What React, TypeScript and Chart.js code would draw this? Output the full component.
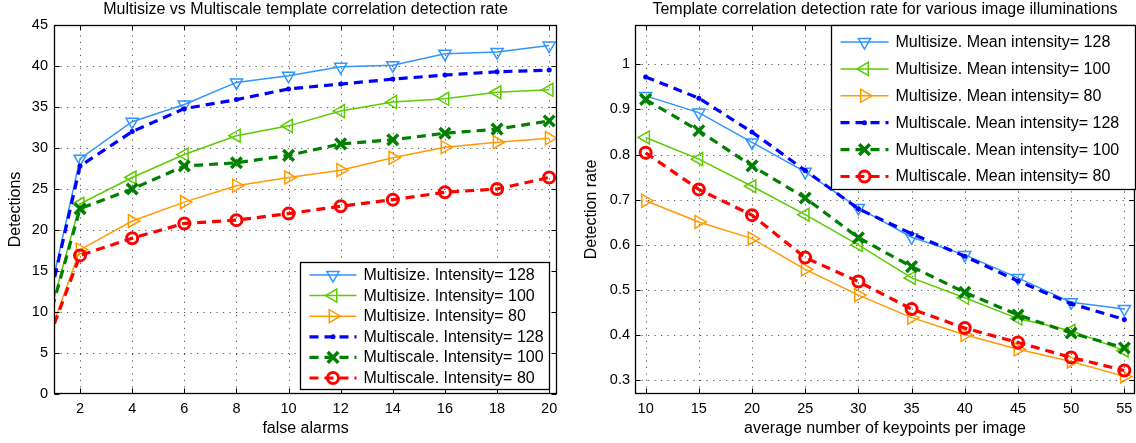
import React, { useEffect, useRef } from "react";
import { Chart, registerables } from "chart.js";
import { drawPoint } from "chart.js/helpers";

Chart.register(...registerables);

const FONT = '"Liberation Sans", Arial, Helvetica, sans-serif';

// ---------------- Left chart data ----------------
const LEFT_TITLE = "Multisize vs Multiscale template correlation detection rate";
const LEFT_X_LABEL = "false alarms";
const LEFT_Y_LABEL = "Detections";
const FALSE_ALARMS = [0, 2, 4, 6, 8, 10, 12, 14, 16, 18, 20];
const LEFT_X_TICKS = [2, 4, 6, 8, 10, 12, 14, 16, 18, 20];
const LEFT_Y_TICKS = [0, 5, 10, 15, 20, 25, 30, 35, 40, 45];
const LEFT_LABELS = [
  "Multisize. Intensity= 128",
  "Multisize. Intensity= 100",
  "Multisize. Intensity= 80",
  "Multiscale. Intensity= 128",
  "Multiscale. Intensity= 100",
  "Multiscale. Intensity= 80",
];
const DET_MSIZE_128 = [0, 28.7, 33.2, 35.3, 38.0, 38.8, 39.9, 40.1, 41.5, 41.7, 42.5];
const DET_MSIZE_100 = [0, 23.2, 26.4, 29.2, 31.5, 32.7, 34.5, 35.6, 36.0, 36.8, 37.1];
const DET_MSIZE_80 = [0, 17.6, 21.1, 23.4, 25.4, 26.4, 27.3, 28.8, 30.1, 30.7, 31.2];
const DET_MSCALE_128 = [0, 27.8, 32.0, 34.8, 35.9, 37.2, 37.8, 38.4, 38.9, 39.3, 39.5];
const DET_MSCALE_100 = [0, 22.6, 25.0, 27.8, 28.2, 29.1, 30.5, 31.0, 31.8, 32.3, 33.3];
const DET_MSCALE_80 = [0, 16.9, 19.0, 20.8, 21.2, 22.0, 22.9, 23.7, 24.6, 25.0, 26.4];

// ---------------- Right chart data ----------------
const RIGHT_TITLE = "Template correlation detection rate for various image illuminations";
const RIGHT_X_LABEL = "average number of keypoints per image";
const RIGHT_Y_LABEL = "Detection rate";
const KEYPOINTS = [10, 15, 20, 25, 30, 35, 40, 45, 50, 55];
const RIGHT_X_TICKS = [10, 15, 20, 25, 30, 35, 40, 45, 50, 55];
const RIGHT_Y_TICKS = [0.3, 0.4, 0.5, 0.6, 0.7, 0.8, 0.9, 1];
const RIGHT_LABELS = [
  "Multisize. Mean intensity= 128",
  "Multisize. Mean intensity= 100",
  "Multisize. Mean intensity= 80",
  "Multiscale. Mean intensity= 128",
  "Multiscale. Mean intensity= 100",
  "Multiscale. Mean intensity= 80",
];
const RATE_MSIZE_128 = [0.93, 0.893, 0.827, 0.762, 0.682, 0.617, 0.578, 0.527, 0.473, 0.458];
const RATE_MSIZE_100 = [0.838, 0.79, 0.73, 0.667, 0.6, 0.527, 0.483, 0.437, 0.41, 0.366];
const RATE_MSIZE_80 = [0.698, 0.651, 0.614, 0.546, 0.489, 0.439, 0.401, 0.369, 0.342, 0.309];
const RATE_MSCALE_128 = [0.972, 0.925, 0.85, 0.765, 0.68, 0.625, 0.575, 0.52, 0.47, 0.435];
const RATE_MSCALE_100 = [0.922, 0.853, 0.775, 0.704, 0.616, 0.552, 0.495, 0.445, 0.405, 0.372];
const RATE_MSCALE_80 = [0.804, 0.723, 0.666, 0.572, 0.519, 0.458, 0.416, 0.384, 0.351, 0.322];

// ---------------- Series styles ----------------
const STYLES = [
  { color: "#2f95ff", width: 1.5, dash: [], marker: "triangle", rot: 180, radius: 7, mw: 1.5, fill: "rgba(0,0,0,0)", order: 1 },
  { color: "#5ccc00", width: 1.5, dash: [], marker: "triangle", rot: 270, radius: 7.5, mw: 1.5, fill: "rgba(0,0,0,0)", order: 1 },
  { color: "#ff9a00", width: 1.5, dash: [], marker: "triangle", rot: 90, radius: 7.5, mw: 1.5, fill: "rgba(0,0,0,0)", order: 1 },
  { color: "#0000ff", width: 3.2, dash: [9, 6], marker: "circle", rot: 0, radius: 2.5, mw: 0, fill: "#0000ff", order: 0 },
  { color: "#008000", width: 3.2, dash: [9, 6], marker: "crossRot", rot: 0, radius: 7.5, mw: 3.5, fill: "rgba(0,0,0,0)", order: 0 },
  { color: "#ff0000", width: 3.2, dash: [9, 6], marker: "circle", rot: 0, radius: 5.5, mw: 3, fill: "rgba(0,0,0,0)", order: 0 },
];

function buildDatasets(xs: number[], series: number[][], labels: string[]) {
  return series.map((vals, i) => {
    const st = STYLES[i];
    return {
      label: labels[i],
      data: xs.map((x, j) => ({ x, y: vals[j] })),
      borderColor: st.color,
      borderWidth: st.width,
      borderDash: st.dash,
      pointStyle: st.marker,
      pointRotation: st.rot,
      pointRadius: st.radius,
      pointHoverRadius: st.radius,
      pointBorderWidth: st.mw,
      pointBorderColor: st.color,
      pointBackgroundColor: st.fill,
      order: st.order,
      clip: 0,
      fill: false,
      tension: 0,
    };
  });
}

const matlabPlugin = {
  id: "matlab",
  beforeDatasetsDraw(chart: any) {
    const { ctx, chartArea: a, scales } = chart;
    const x = scales.x;
    const y = scales.y;
    ctx.save();
    ctx.strokeStyle = "rgba(60,60,60,0.85)";
    ctx.lineWidth = 1;
    ctx.setLineDash([1.2, 5.3]);
    for (const t of x.ticks) {
      const px = Math.round(x.getPixelForValue(t.value)) + 0.5;
      if (px <= a.left + 1 || px >= a.right - 1) continue;
      ctx.beginPath();
      ctx.moveTo(px, a.bottom);
      ctx.lineTo(px, a.top);
      ctx.stroke();
    }
    for (const t of y.ticks) {
      const py = Math.round(y.getPixelForValue(t.value)) + 0.5;
      if (py <= a.top + 1 || py >= a.bottom - 1) continue;
      ctx.beginPath();
      ctx.moveTo(a.left, py);
      ctx.lineTo(a.right, py);
      ctx.stroke();
    }
    ctx.restore();
  },
  afterDatasetsDraw(chart: any, _args: any, opts: any) {
    const { ctx, chartArea: a, scales } = chart;
    const x = scales.x;
    const y = scales.y;
    ctx.save();
    ctx.setLineDash([]);
    ctx.strokeStyle = "#000";
    ctx.lineWidth = 1.3;
    const L = Math.round(a.left) + 0.5;
    const R = Math.round(a.right) - 0.5;
    const T = Math.round(a.top) + 0.5;
    const B = Math.round(a.bottom) - 0.5;
    ctx.strokeRect(L, T, R - L, B - T);
    const tl = 5;
    ctx.lineWidth = 1;
    for (const t of x.ticks) {
      const px = Math.round(x.getPixelForValue(t.value)) + 0.5;
      ctx.beginPath();
      ctx.moveTo(px, B);
      ctx.lineTo(px, B - tl);
      ctx.moveTo(px, T);
      ctx.lineTo(px, T + tl);
      ctx.stroke();
    }
    for (const t of y.ticks) {
      const py = Math.round(y.getPixelForValue(t.value)) + 0.5;
      ctx.beginPath();
      ctx.moveTo(L, py);
      ctx.lineTo(L + tl, py);
      ctx.moveTo(R, py);
      ctx.lineTo(R - tl, py);
      ctx.stroke();
    }

    // legend
    const lg = opts.legend;
    const bx = Math.round(a.right - lg.dx - lg.w) + 0.5;
    const by = Math.round(lg.anchor === "bottom" ? a.bottom - lg.dy - lg.h : a.top + lg.dy) + 0.5;
    ctx.fillStyle = "#fff";
    ctx.fillRect(bx, by, lg.w, lg.h);
    ctx.strokeStyle = "#000";
    ctx.lineWidth = 1.3;
    ctx.strokeRect(bx, by, lg.w, lg.h);
    ctx.font = `${lg.fontSize}px ${FONT}`;
    ctx.textAlign = "left";
    ctx.textBaseline = "middle";
    chart.data.datasets.forEach((ds: any, i: number) => {
      const yy = by + lg.first + i * lg.rowH;
      ctx.strokeStyle = ds.borderColor;
      ctx.lineWidth = ds.borderWidth;
      ctx.setLineDash(ds.borderDash || []);
      ctx.beginPath();
      ctx.moveTo(bx + lg.x0, yy);
      ctx.lineTo(bx + lg.x1, yy);
      ctx.stroke();
      ctx.setLineDash([]);
      ctx.fillStyle = ds.pointBackgroundColor;
      ctx.strokeStyle = ds.pointBorderColor;
      ctx.lineWidth = ds.pointBorderWidth;
      drawPoint(
        ctx,
        { pointStyle: ds.pointStyle, rotation: ds.pointRotation, radius: ds.pointRadius, borderWidth: ds.pointBorderWidth } as any,
        bx + (lg.x0 + lg.x1) / 2,
        yy
      );
      ctx.fillStyle = "#000";
      ctx.fillText(ds.label, bx + lg.textX, yy + 0.5);
    });
    ctx.restore();
  },
  afterDraw(chart: any, _args: any, opts: any) {
    const { ctx, chartArea: a } = chart;
    ctx.save();
    ctx.fillStyle = "#000";
    ctx.textAlign = "center";
    ctx.textBaseline = "middle";
    ctx.font = `${opts.titleSize}px ${FONT}`;
    ctx.fillText(opts.title, (a.left + a.right) / 2, opts.titleY);
    ctx.font = `${opts.labelSize}px ${FONT}`;
    ctx.fillText(opts.xLabel, (a.left + a.right) / 2, opts.xLabelY);
    ctx.translate(opts.yLabelX, (a.top + a.bottom) / 2);
    ctx.rotate(-Math.PI / 2);
    ctx.fillText(opts.yLabel, 0, 0);
    ctx.restore();
  },
};

function makeConfig(p: any) {
  const tickFont = { family: FONT, size: 14.5 };
  return {
    type: "line",
    data: { datasets: p.datasets },
    plugins: [matlabPlugin],
    options: {
      responsive: false,
      animation: false,
      devicePixelRatio: 1,
      events: [],
      layout: { autoPadding: false, padding: { top: 25, right: p.padRight, left: 0, bottom: 0 } },
      plugins: {
        legend: { display: false },
        tooltip: { enabled: false },
        title: { display: false },
        matlab: {
          title: p.title,
          titleSize: 16,
          titleY: 10,
          xLabel: p.xLabel,
          yLabel: p.yLabel,
          labelSize: 16,
          xLabelY: 429,
          yLabelX: p.yLabelX,
          legend: p.legend,
        },
      },
      scales: {
        x: {
          type: "linear",
          min: p.xMin,
          max: p.xMax,
          afterBuildTicks: (s: any) => {
            s.ticks = p.xTicks.map((v: number) => ({ value: v }));
          },
          afterFit: (s: any) => {
            s.height = 49;
            s.paddingLeft = 0;
            s.paddingRight = 0;
          },
          grid: { display: false, drawTicks: false },
          border: { display: false },
          ticks: {
            font: tickFont,
            color: "#000",
            padding: 6,
            maxRotation: 0,
            autoSkip: false,
            callback: (v: any) => String(v),
          },
        },
        y: {
          type: "linear",
          min: p.yMin,
          max: p.yMax,
          afterBuildTicks: (s: any) => {
            s.ticks = p.yTicks.map((v: number) => ({ value: v }));
          },
          afterFit: (s: any) => {
            s.width = p.yAxisWidth;
            s.paddingTop = 0;
            s.paddingBottom = 0;
          },
          grid: { display: false, drawTicks: false },
          border: { display: false },
          ticks: {
            font: tickFont,
            color: "#000",
            padding: p.yPad,
            autoSkip: false,
            callback: (v: any) => String(v),
          },
        },
      },
    },
  };
}

function Panel({ config, left }: { config: any; left: number }) {
  const ref = useRef<HTMLCanvasElement | null>(null);
  useEffect(() => {
    if (!ref.current) return;
    const chart = new Chart(ref.current, config);
    return () => chart.destroy();
  }, [config]);
  return (
    <canvas
      ref={ref}
      width={568}
      height={443}
      style={{ position: "absolute", left, top: 0, width: 568, height: 443, display: "block" }}
    />
  );
}

const leftConfig = makeConfig({
  datasets: buildDatasets(
    FALSE_ALARMS,
    [DET_MSIZE_128, DET_MSIZE_100, DET_MSIZE_80, DET_MSCALE_128, DET_MSCALE_100, DET_MSCALE_80],
    LEFT_LABELS
  ),
  title: LEFT_TITLE,
  xLabel: LEFT_X_LABEL,
  yLabel: LEFT_Y_LABEL,
  xTicks: LEFT_X_TICKS,
  yTicks: LEFT_Y_TICKS,
  xMin: 1,
  xMax: 20.3,
  yMin: 0,
  yMax: 45,
  yAxisWidth: 54,
  yPad: 6,
  padRight: 11,
  yLabelX: 16,
  legend: { anchor: "bottom", w: 249, h: 127, dx: 8, dy: 5, first: 12.5, rowH: 20.6, x0: 9, x1: 56, textX: 63, fontSize: 16 },
});

const rightConfig = makeConfig({
  datasets: buildDatasets(
    KEYPOINTS,
    [RATE_MSIZE_128, RATE_MSIZE_100, RATE_MSIZE_80, RATE_MSCALE_128, RATE_MSCALE_100, RATE_MSCALE_80],
    RIGHT_LABELS
  ),
  title: RIGHT_TITLE,
  xLabel: RIGHT_X_LABEL,
  yLabel: RIGHT_Y_LABEL,
  xTicks: RIGHT_X_TICKS,
  yTicks: RIGHT_Y_TICKS,
  xMin: 9,
  xMax: 56,
  yMin: 0.27,
  yMax: 1.087,
  yAxisWidth: 67,
  yPad: 5,
  padRight: 1,
  yLabelX: 24,
  legend: { anchor: "top", w: 304, h: 164, dx: 0, dy: 0, first: 16.5, rowH: 26.9, x0: 9, x1: 57, textX: 64, fontSize: 16 },
});

export default function App() {
  return (
    <div style={{ position: "absolute", left: 0, top: 0, width: 1136, height: 443, background: "#fff" }}>
      <Panel config={leftConfig} left={0} />
      <Panel config={rightConfig} left={568} />
    </div>
  );
}
